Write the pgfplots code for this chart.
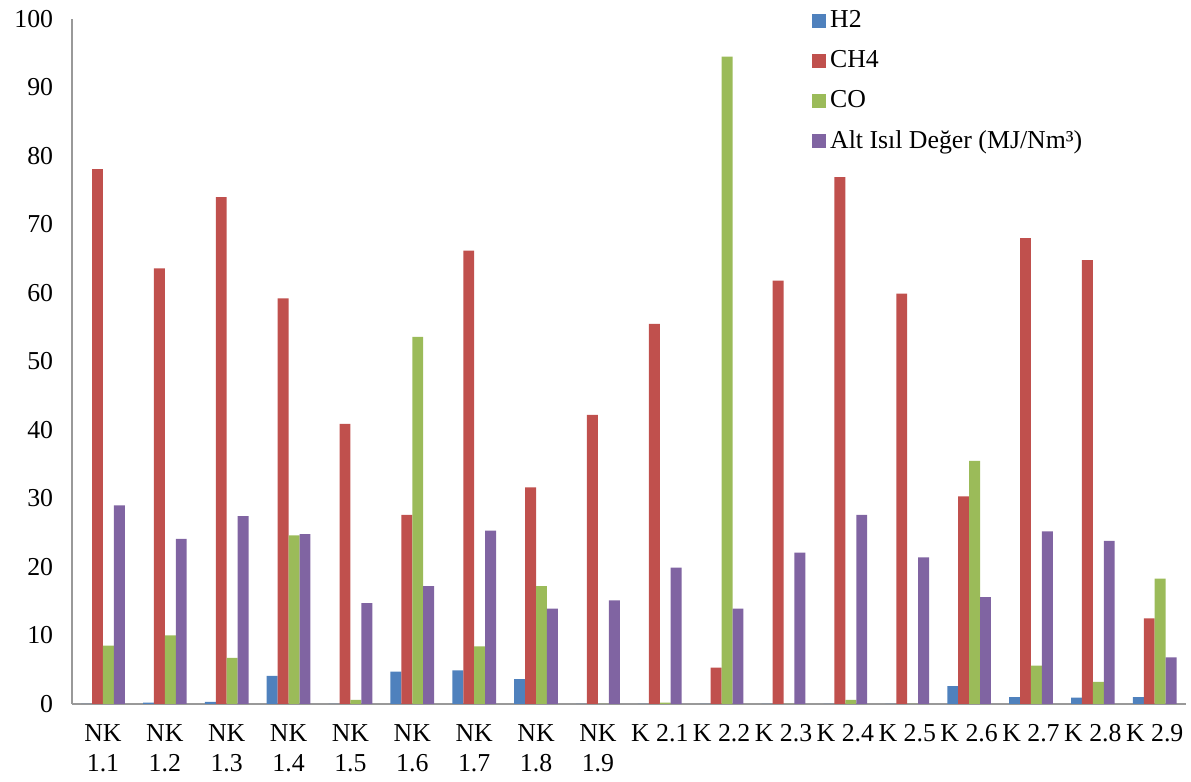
\documentclass[border=0pt]{standalone}
\usepackage{pgfplots}
\pgfplotsset{compat=1.18}
\usepackage{fontspec}
\setmainfont{Liberation Serif}
\definecolor{cH}{HTML}{4F81BD}
\definecolor{cC}{HTML}{C0504D}
\definecolor{cO}{HTML}{9BBB59}
\definecolor{cA}{HTML}{8064A2}
\begin{document}
\fontsize{13}{15}\selectfont
\begin{tikzpicture}
\useasboundingbox (-36.3pt,-39.3pt) rectangle (563.7pt,354.6pt);
\begin{axis}[
  at={(0,0)}, anchor=south west,
  scale only axis,
  width=561pt, height=345pt,
  ybar=0pt, bar width=5.5pt,
  xmin=-0.5, xmax=17.5,
  ymin=0, ymax=100,
  ytick={0,10,...,100},
  xtick={0,...,17},
  xticklabels={{NK\\1.1},{NK\\1.2},{NK\\1.3},{NK\\1.4},{NK\\1.5},{NK\\1.6},{NK\\1.7},{NK\\1.8},{NK\\1.9},{K 2.1},{K 2.2},{K 2.3},{K 2.4},{K 2.5},{K 2.6},{K 2.7},{K 2.8},{K 2.9}},
  xticklabel style={align=center, font=\fontsize{13}{15}\selectfont, anchor=north, yshift=-6pt},
  yticklabel style={font=\fontsize{13}{15}\selectfont, xshift=-5pt},
  /pgf/number format/assume math mode=true,
  major tick length=0pt,
  axis x line*=bottom, axis y line*=left,
  axis line style={draw=gray!80, line width=1pt},
  separate axis lines,
  y axis line style={-}, x axis line style={-},
  legend style={at={(0.659,1.025)}, anchor=north west, draw=none, fill=none,
    font=\fontsize{13}{15}\selectfont, row sep=5.6pt, legend cell align=left},
  legend image code/.code={\fill[#1] (0pt,-3.4pt) rectangle (7pt,3.4pt);},
  clip=false,
]
\addplot[fill=cH, draw=none] coordinates {(0,0) (1,0.2) (2,0.3) (3,4.1) (4,0) (5,4.7) (6,4.9) (7,3.6) (8,0) (9,0) (10,0) (11,0) (12,0) (13,0) (14,2.6) (15,1.0) (16,0.9) (17,1.0)};
\addplot[fill=cC, draw=none] coordinates {(0,78.1) (1,63.6) (2,74.0) (3,59.2) (4,40.9) (5,27.6) (6,66.2) (7,31.6) (8,42.2) (9,55.5) (10,5.3) (11,61.8) (12,76.9) (13,59.9) (14,30.3) (15,68.0) (16,64.8) (17,12.5)};
\addplot[fill=cO, draw=none] coordinates {(0,8.5) (1,10.0) (2,6.7) (3,24.6) (4,0.6) (5,53.6) (6,8.4) (7,17.2) (8,0) (9,0.2) (10,94.5) (11,0) (12,0.6) (13,0) (14,35.5) (15,5.6) (16,3.2) (17,18.3)};
\addplot[fill=cA, draw=none] coordinates {(0,29.0) (1,24.1) (2,27.4) (3,24.8) (4,14.7) (5,17.2) (6,25.3) (7,13.9) (8,15.1) (9,19.9) (10,13.9) (11,22.1) (12,27.6) (13,21.4) (14,15.6) (15,25.2) (16,23.8) (17,6.8)};
\legend{H2, CH4, CO, Alt Isıl Değer (MJ/Nm³)}
\end{axis}
\end{tikzpicture}
\end{document}
